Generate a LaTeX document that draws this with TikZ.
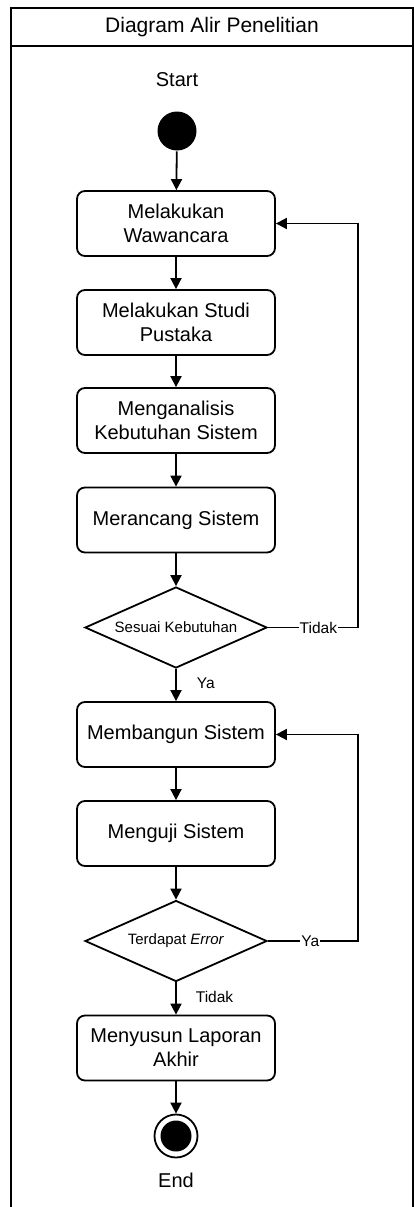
\documentclass[tikz,border=0pt]{standalone}
\usepackage{fontspec}
\setmainfont{Liberation Sans}
\usetikzlibrary{arrows.meta, shapes.geometric}

\begin{document}
\begin{tikzpicture}[x=1pt, y=-1pt, line width=1.8pt, >={Triangle[width=11pt, length=11pt]},
        proses/.style={draw, rounded corners=8pt, minimum width=198pt, minimum height=65pt,
            align=center, inner sep=0pt, font=\fontsize{20}{24}\selectfont},
        keputusan/.style={draw, diamond, aspect=2.25, minimum width=182pt, minimum height=81pt,
            inner sep=0pt, font=\fontsize{15}{18}\selectfont},
        teks/.style={font=\fontsize{20}{24}\selectfont},
        label/.style={font=\fontsize{15.5}{18}\selectfont, inner sep=1pt}]
    \useasboundingbox (0, 0) rectangle (414, 1207);
    \draw (11, 8) rectangle (413, 1230);
    \draw (11, 46) -- (413, 46);
    \node[font=\fontsize{21}{24}\selectfont] (judul) at (212, 27) {Diagram Alir Penelitian};

    \node[teks] (teksmulai) at (177, 80) {Start};
    \node[circle, fill, minimum size=39pt, inner sep=0pt] (mulai) at (177, 131) {};

    \node[proses] (wawancara) at (176, 223.5) {Melakukan\\Wawancara};
    \node[proses] (studi) at (176, 322.5) {Melakukan Studi\\Pustaka};
    \node[proses] (analisis) at (176, 420.5) {Menganalisis\\Kebutuhan Sistem};
    \node[proses] (rancang) at (176, 520) {Merancang Sistem};
    \node[keputusan] (sesuai) at (176, 627.5) {Sesuai Kebutuhan};
    \node[proses] (bangun) at (176, 734.5) {Membangun Sistem};
    \node[proses] (uji) at (176, 833.5) {Menguji Sistem};
    \node[keputusan] (galat) at (176, 941) {Terdapat \textit{Error}};
    \node[proses] (laporan) at (176, 1048) {Menyusun Laporan\\Akhir};

    \node[circle, draw, minimum size=43pt, inner sep=0pt] (selesai) at (176, 1136) {};
    \node[circle, fill, minimum size=31pt, inner sep=0pt] (selesaiisi) at (selesai) {};
    \node[teks] (teksselesai) at (176, 1180) {End};

    \coordinate (belok1) at (358, 627.5);
    \coordinate (belok2) at (358, 941);

    \draw[->] (mulai) -- (wawancara);
    \draw[->] (wawancara) -- (studi);
    \draw[->] (studi) -- (analisis);
    \draw[->] (analisis) -- (rancang);
    \draw[->] (rancang) -- (sesuai);
    \draw[->] (sesuai) -- node[label, right=19pt, pos=0.45] {Ya} (bangun);
    \draw[->] (sesuai.east) -- node[label, fill=white, pos=0.56] {Tidak} (belok1) |- (wawancara.east);
    \draw[->] (bangun) -- (uji);
    \draw[->] (uji) -- (galat);
    \draw[->] (galat) -- node[label, right=18pt, pos=0.45] {Tidak} (laporan);
    \draw[->] (galat.east) -- node[label, fill=white, pos=0.47] {Ya} (belok2) |- (bangun.east);
    \draw[->] (laporan) -- (selesai);
\end{tikzpicture}
\end{document}
